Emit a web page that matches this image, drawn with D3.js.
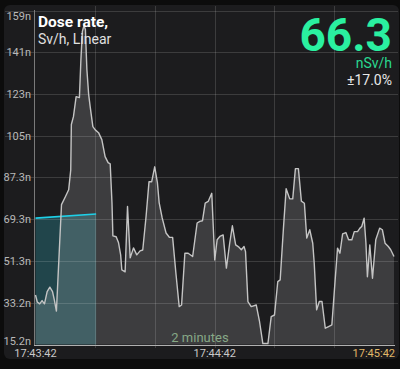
<!DOCTYPE html>
<html>
<head>
<meta charset="utf-8">
<script src="https://d3js.org/d3.v7.min.js"></script>
<style>
  html, body { margin: 0; padding: 0; background: #0c0c0c; }
  svg { display: block; font-family: Roboto, "Noto Sans", sans-serif; }
</style>
</head>
<body>
<svg id="chart" width="400" height="369"></svg>
<script>
// seconds since 17:43:42 and dose rate in nSv/h
var seconds = [0, 0.6, 1.4, 2.2, 3, 3.9, 4.8, 5.7, 6.3, 7, 8.7, 10, 11.1, 11.8, 12, 12.7, 13.6, 14.7,
  15.2, 15.7, 16.2, 16.7, 17.2, 17.8, 18.3, 19.2, 20, 21.1, 22.2, 23.3, 24.3, 25, 25.6, 25.9, 27, 27.8,
  28.5, 28.9, 30, 30.8, 31.7, 32.8, 33.9, 35, 35.9, 37, 38, 38.9, 39.9, 40.8, 41.4, 42.4, 43.7, 44.8,
  45.9, 47, 48.1, 48.9, 50, 51.1, 52.6, 54.1, 55, 55.9, 56.8, 57.8, 59, 60, 60.8, 61.7, 62.8, 63.9, 65,
  65.9, 67, 68.1, 68.9, 69.8, 70.3, 71.1, 72.2, 73.9, 75, 76.1, 77.8, 78.9, 80, 81.1, 81.9, 83, 83.9,
  85.1, 86.1, 87, 88, 89, 90, 90.8, 91.8, 92.8, 93.3, 94.1, 95, 95.9, 97, 98.1, 99.2, 100.3, 101.1,
  101.9, 102.8, 103.9, 104.8, 105.9, 106.7, 107.8, 108.6, 109.2, 110, 110.6, 111.1, 111.9, 112.8, 113.9,
  115.2, 116.1, 117, 118.1, 118.9, 120];
var doseRate = [36.5, 33.5, 32.7, 34.1, 32.7, 38.0, 39.9, 38.0, 34.4, 29.6, 75.4, 78.8, 81.8, 90.4, 109.9, 113.3, 121.9, 121.5,
  137.9, 150.0, 152.5, 150.8, 133.6, 122.8, 117.6, 109.0, 107.6, 106.4, 103.4, 96.1, 93.5, 93.0, 76.2, 62.0, 61.6, 59.0,
  53.8, 47.3, 46.5, 74.6, 52.5, 56.8, 53.8, 55.5, 55.9, 70.2, 85.3, 85.3, 91.7, 84.9, 76.2, 69.7, 63.2, 61.4,
  61.3, 45.9, 31.5, 32.2, 54.5, 54.5, 53.1, 67.5, 68.2, 68.5, 76.1, 76.8, 80.3, 51.6, 60.3, 61.7, 62.4, 48.1, 58.8,
  66.3, 58.1, 57.1, 56.0, 57.4, 55.2, 33.7, 31.5, 32.2, 25.0, 15.6, 15.6, 27.2, 27.9, 42.3, 43.0, 65.4, 82.3,
  77.9, 77.9, 90.9, 90.9, 76.9, 76.0, 61.0, 64.6, 58.8, 50.2, 30.1, 33.7, 33.7, 22.2, 22.9, 23.6, 43.0, 56.7,
  54.5, 62.8, 63.4, 60.3, 60.3, 63.8, 63.8, 65.3, 66.0, 69.6, 59.0, 44.4, 58.1, 43.7, 60.3,
  65.3, 64.6, 58.8, 57.4, 56.0, 53.1];

// highlighted averaging window (cyan)
var avgSeconds = [0, 20.3];
var avgValues = [69.6, 71.4];

var yTickValues = [15.2, 33.2, 51.3, 69.3, 87.3, 105, 123, 141, 159];
var yTickLabels = ["15.2n", "33.2n", "51.3n", "69.3n", "87.3n", "105n", "123n", "141n", "159n"];
var xTickValues = [0, 60, 120];
var xTickLabels = ["17:43:42", "17:44:42", "17:45:42"];
var xGridValues = [20, 40, 60, 80, 100];

var currentValue = "66.3";
var currentUnit = "nSv/h";
var currentError = "\u00b117.0%";

var svg = d3.select("#chart");

// panel background
svg.append("rect")
  .attr("x", 4).attr("y", 5)
  .attr("width", 395).attr("height", 354)
  .attr("rx", 6)
  .attr("fill", "#1c1c1e");

var xScale = d3.scaleLinear().domain([0, 120]).range([35.5, 394]);
var yScale = d3.scaleLinear().domain([15.2, 159]).range([344.5, 10.5]);

var points = seconds.map(function(s, i) { return [s, doseRate[i]]; });

// area under the dose rate line
var area = d3.area()
  .x(function(d) { return xScale(d[0]); })
  .y0(yScale(15.2))
  .y1(function(d) { return yScale(d[1]); });

// cyan window, dark part first (under the grey fill)
var avgPoints = avgSeconds.map(function(s, i) { return [s, avgValues[i]]; });
svg.append("path")
  .datum(avgPoints)
  .attr("d", area)
  .attr("fill", "rgba(40, 120, 130, 0.45)");

svg.append("path")
  .datum(points)
  .attr("d", area)
  .attr("fill", "rgba(255, 255, 255, 0.15)");

// grid lines
svg.selectAll(".hgrid")
  .data(yTickValues.slice(1))
  .enter()
  .append("line")
  .attr("class", "hgrid")
  .attr("x1", 5).attr("x2", 398)
  .attr("y1", function(d) { return Math.round(yScale(d)) + 0.5; })
  .attr("y2", function(d) { return Math.round(yScale(d)) + 0.5; })
  .attr("stroke", "rgba(255, 255, 255, 0.14)");

svg.selectAll(".vgrid")
  .data(xGridValues)
  .enter()
  .append("line")
  .attr("class", "vgrid")
  .attr("x1", function(d) { return Math.round(xScale(d)) + 0.5; })
  .attr("x2", function(d) { return Math.round(xScale(d)) + 0.5; })
  .attr("y1", 6).attr("y2", 348)
  .attr("stroke", "rgba(255, 255, 255, 0.14)");

// axes lines
svg.append("line")
  .attr("x1", 34.5).attr("x2", 34.5)
  .attr("y1", 10).attr("y2", 346)
  .attr("stroke", "#7a7a7a");
svg.append("line")
  .attr("x1", 34).attr("x2", 395)
  .attr("y1", 345.5).attr("y2", 345.5)
  .attr("stroke", "#b0b0b0");

// cyan average line
var line = d3.line()
  .x(function(d) { return xScale(d[0]); })
  .y(function(d) { return yScale(d[1]); });

svg.append("path")
  .datum(avgPoints)
  .attr("d", line)
  .attr("fill", "none")
  .attr("stroke", "#1ed0e8")
  .attr("stroke-width", 1.6);

// dose rate line
svg.append("path")
  .datum(points)
  .attr("d", line)
  .attr("fill", "none")
  .attr("stroke", "#c4c4c4")
  .attr("stroke-width", 1.4)
  .attr("stroke-linejoin", "round");

// y labels (clamped inside the panel)
svg.selectAll(".ylabel")
  .data(yTickValues)
  .enter()
  .append("text")
  .attr("class", "ylabel")
  .attr("x", 31)
  .attr("y", function(d) { return Math.max(16, Math.min(341, yScale(d))); })
  .attr("dy", "0.35em")
  .attr("text-anchor", "end")
  .attr("font-size", 11)
  .attr("fill", "#b8b8b8")
  .text(function(d, i) { return yTickLabels[i]; });

// x labels
svg.selectAll(".xlabel")
  .data(xTickValues)
  .enter()
  .append("text")
  .attr("class", "xlabel")
  .attr("x", function(d, i) { return i === xTickValues.length - 1 ? 395 : xScale(d); })
  .attr("y", 357)
  .attr("text-anchor", function(d, i) { return i === xTickValues.length - 1 ? "end" : "middle"; })
  .attr("font-size", 11)
  .attr("fill", function(d, i) { return i === xTickValues.length - 1 ? "#e0b868" : "#c8c8c8"; })
  .text(function(d, i) { return xTickLabels[i]; });

// span label
svg.append("text")
  .attr("x", 200).attr("y", 342)
  .attr("text-anchor", "middle")
  .attr("font-size", 13)
  .attr("fill", "#86a886")
  .text("2 minutes");

// title
svg.append("text")
  .attr("x", 38).attr("y", 27)
  .attr("font-size", 15.5)
  .attr("font-weight", "bold")
  .attr("fill", "#ffffff")
  .text("Dose rate,");
svg.append("text")
  .attr("x", 38).attr("y", 44)
  .attr("font-size", 14)
  .attr("fill", "#e0e0e0")
  .text("Sv/h, Linear");

// current reading
svg.append("text")
  .attr("x", 392).attr("y", 51)
  .attr("text-anchor", "end")
  .attr("font-size", 46)
  .attr("font-weight", "bold")
  .attr("fill", "#2af0a0")
  .text(currentValue);
svg.append("text")
  .attr("x", 392).attr("y", 68)
  .attr("text-anchor", "end")
  .attr("font-size", 14)
  .attr("fill", "#2ad890")
  .text(currentUnit);
svg.append("text")
  .attr("x", 392).attr("y", 85)
  .attr("text-anchor", "end")
  .attr("font-size", 14)
  .attr("fill", "#e8e8e8")
  .text(currentError);
</script>
</body>
</html>
